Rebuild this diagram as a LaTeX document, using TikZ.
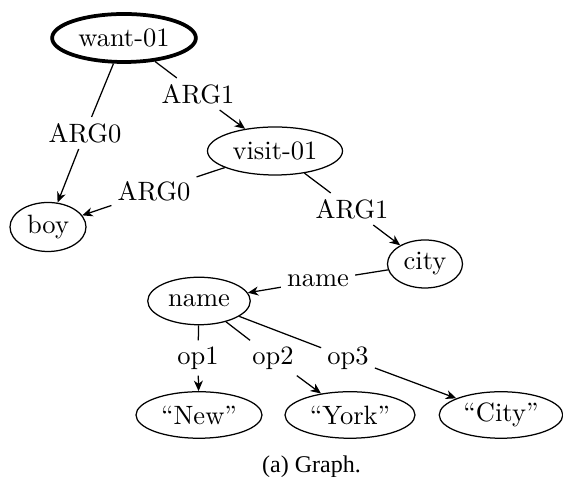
\documentclass[tikz,border=0pt]{standalone}
\usepackage{fontspec}
\newfontfamily\capfont{Liberation Serif}
\usetikzlibrary{shapes.geometric,arrows.meta}
\begin{document}
\begin{tikzpicture}[x=0.4pt,y=-0.4pt,
  every node/.style={font=\fontsize{10.6}{12}\selectfont},
  amr/.style={ellipse,draw,line width=0.5pt,inner sep=0pt,minimum height=19.2pt},
  lab/.style={inner sep=2.3pt},
  edge/.style={line width=0.5pt},
  arr/.style={line width=0.5pt,-{Stealth[length=4.2pt,width=3.6pt,inset=1.3pt]}}]
\useasboundingbox (0,0) rectangle (563,477);
% nodes
\node[amr,line width=1.5pt,minimum width=57.5pt] (want) at (124,38) {want-01};
\node[amr,minimum width=54pt] (visit) at (275,151) {visit-01};
\node[amr,minimum width=30.4pt,minimum height=19.6pt] (boy) at (48,227) {boy};
\node[amr,minimum width=30pt] (city) at (425,264) {city};
\node[amr,minimum width=41pt,minimum height=19pt] (name) at (199,301) {name};
\node[amr,minimum width=50.4pt,minimum height=18.6pt] (new) at (199,415) {``New''};
\node[amr,minimum width=52pt,minimum height=18.6pt] (york) at (350,415) {``York''};
\node[amr,minimum width=49.4pt,minimum height=18.6pt] (cityq) at (501,415) {``City''};
% labels
\node[lab] (l1) at (85,133) {ARG0};
\node[lab] (l2) at (198,94) {ARG1};
\node[lab] (l3) at (154,191) {ARG0};
\node[lab] (l4) at (352,209) {ARG1};
\node[lab] (l5) at (318,281) {name};
\node[lab] (l6) at (198,358) {op1};
\node[lab] (l7) at (273,358) {op2};
\node[lab] (l8) at (348,358) {op3};
% edges
\draw[edge] (want) -- (l1); \draw[arr] (l1) -- (boy);
\draw[edge] (want) -- (l2); \draw[arr] (l2) -- (visit);
\draw[edge] (visit) -- (l3); \draw[arr] (l3) -- (boy);
\draw[edge] (visit) -- (l4); \draw[arr] (l4) -- (city);
\draw[edge] (city) -- (l5); \draw[arr] (l5) -- (name);
\draw[edge] (name) -- (l6); \draw[arr] (l6) -- (new);
\draw[edge] (name) -- (l7); \draw[arr] (l7) -- (york);
\draw[edge] (name) -- (l8); \draw[arr] (l8) -- (cityq);
% caption
\node[anchor=base,inner sep=0pt,font=\capfont\fontsize{9.6}{11}\selectfont] (cap) at (311.5,473) {(a) Graph.};
\end{tikzpicture}
\end{document}
